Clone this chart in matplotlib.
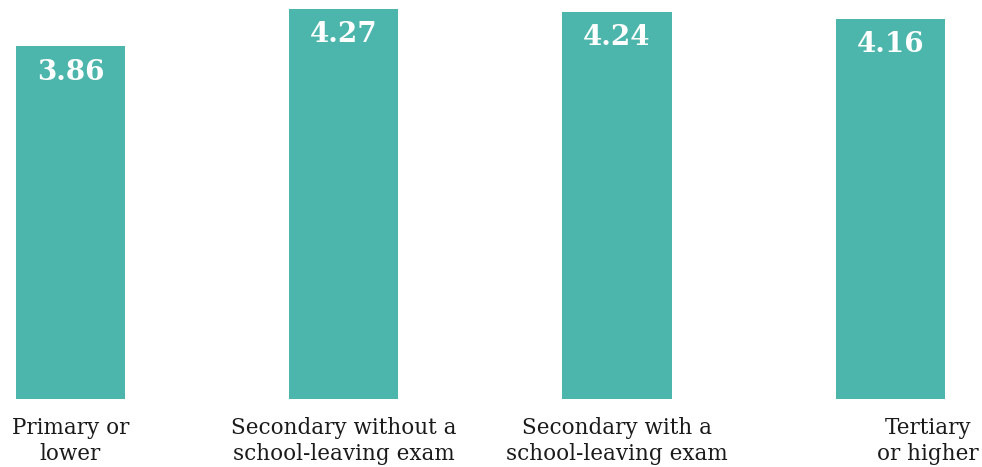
import matplotlib
matplotlib.use("Agg")
import matplotlib.pyplot as plt
from matplotlib.transforms import ScaledTranslation

plt.rcParams["font.family"] = ["DejaVu Serif"]

categories = [
    "Primary or\nlower",
    "Secondary without a\nschool-leaving exam",
    "Secondary with a\nschool-leaving exam",
    "Tertiary\nor higher",
]
values = [3.86, 4.27, 4.24, 4.16]

BAR_COLOR = "#4DB6AC"
TEXT_COLOR = "#1a1a1a"

fig = plt.figure(figsize=(9.82, 4.67), dpi=100)
ax = fig.add_axes([0, 0.1456, 1, 0.8544])

x = range(len(values))
bars = ax.bar(x, values, width=0.4, color=BAR_COLOR)

# value labels inside top of each bar
for rect, v in zip(bars, values):
    ax.annotate(f"{v:.2f}", (rect.get_x() + rect.get_width() / 2, rect.get_height()),
                xytext=(0, -9), textcoords="offset points",
                ha="center", va="top", color="white",
                fontsize=20, fontweight="bold")

ax.set_xlim(-0.258, 3.336)
ax.set_ylim(0, 4.367)
ax.set_xticks(list(x))
ax.set_xticklabels(categories, fontsize=15.5, color=TEXT_COLOR, linespacing=1.25)
ax.tick_params(axis="x", length=0, pad=13)
ax.set_yticks([])
for s in ax.spines.values():
    s.set_visible(False)

# last label sits a bit to the right of its bar
lbl = ax.get_xticklabels()[-1]
lbl.set_transform(lbl.get_transform() + ScaledTranslation(38 / 100, 0, fig.dpi_scale_trans))

fig.savefig("out.png", dpi=100)
